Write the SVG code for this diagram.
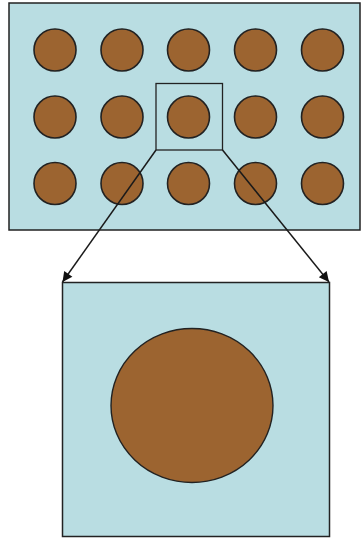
<svg xmlns="http://www.w3.org/2000/svg" width="363" height="542" viewBox="0 0 363 542">
<defs>
<style>
.panel{fill:#b9dde2;stroke:#222;stroke-width:1.5}
.dot{fill:#9c6430;stroke:#222;stroke-width:1.6}
.zoom{fill:none;stroke:#222;stroke-width:1.3}
.conn{stroke:#1a1a1a;stroke-width:1.5;fill:none}
</style>
<marker id="ah" viewBox="0 0 10 10" refX="10" refY="5" markerWidth="13" markerHeight="10" markerUnits="userSpaceOnUse" orient="auto">
<path d="M0,0 L10,5 L0,10 z" fill="#111"/>
</marker>
</defs>
<rect width="363" height="542" fill="#ffffff"/>
<g id="wafer">
<rect class="panel" x="9" y="3" width="351" height="227"/>
<circle class="dot" cx="55" cy="50" r="21"/>
<circle class="dot" cx="122" cy="50" r="21"/>
<circle class="dot" cx="188.5" cy="50" r="21"/>
<circle class="dot" cx="255.5" cy="50" r="21"/>
<circle class="dot" cx="322.5" cy="50" r="21"/>
<circle class="dot" cx="55" cy="117" r="21"/>
<circle class="dot" cx="122" cy="117" r="21"/>
<circle class="dot" cx="188.5" cy="117" r="21"/>
<circle class="dot" cx="255.5" cy="117" r="21"/>
<circle class="dot" cx="322.5" cy="117" r="21"/>
<circle class="dot" cx="55" cy="183.5" r="21"/>
<circle class="dot" cx="122" cy="183.5" r="21"/>
<circle class="dot" cx="188.5" cy="183.5" r="21"/>
<circle class="dot" cx="255.5" cy="183.5" r="21"/>
<circle class="dot" cx="322.5" cy="183.5" r="21"/>
</g>
<g id="selection">
<rect class="zoom" x="156" y="83.5" width="66.5" height="66.5"/>
</g>
<g id="connectors">
<line class="conn" x1="156" y1="150" x2="62.5" y2="282" marker-end="url(#ah)"/>
<line class="conn" x1="222.5" y1="150" x2="329" y2="282" marker-end="url(#ah)"/>
</g>
<g id="detail">
<rect class="panel" x="62.5" y="282.5" width="267" height="254"/>
<ellipse class="dot" cx="192" cy="405.5" rx="81" ry="77" style="stroke-width:1.4"/>
</g>
</svg>
